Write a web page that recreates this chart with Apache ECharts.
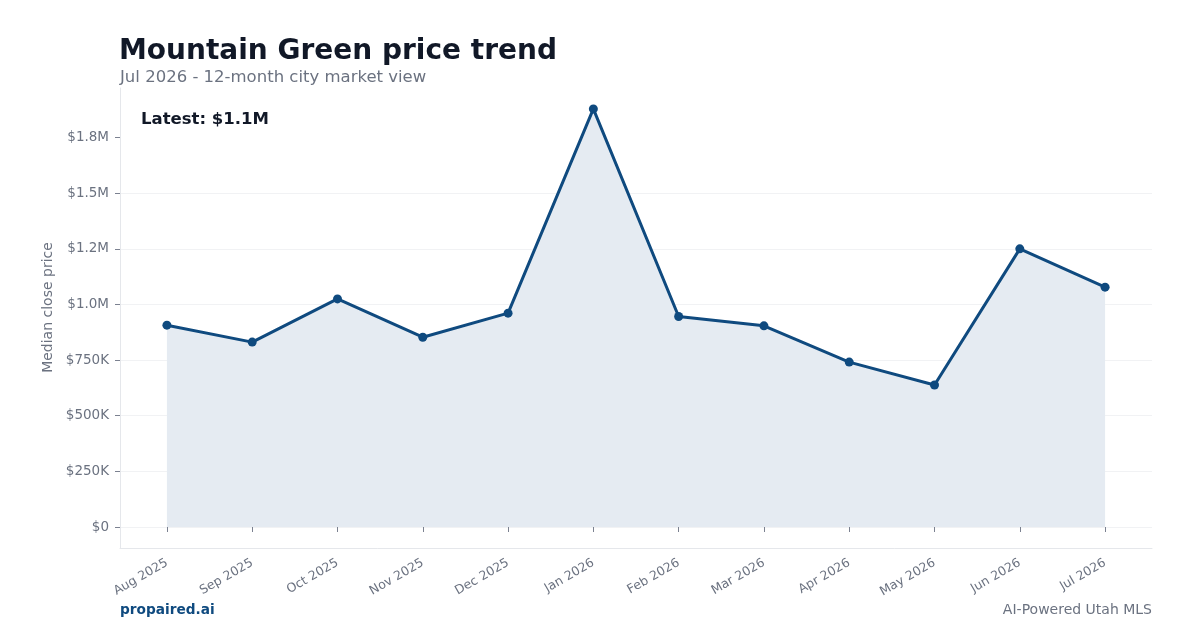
<!DOCTYPE html>
<html>
<head>
<meta charset="utf-8">
<script src="https://cdn.jsdelivr.net/npm/echarts@6/dist/echarts.min.js"></script>
<style>html,body{margin:0;padding:0;background:#fff}#c{width:1200px;height:630px}</style>
</head>
<body>
<div id="c"></div>
<script>
const months = ['Aug 2025','Sep 2025','Oct 2025','Nov 2025','Dec 2025','Jan 2026','Feb 2026','Mar 2026','Apr 2026','May 2026','Jun 2026','Jul 2026'];
const prices = [907000, 831000, 1025000, 853000, 961000, 1879000, 946000, 904000, 741000, 638000, 1250000, 1078000];
const yTickValues = [0, 250000, 500000, 750000, 1000000, 1250000, 1500000, 1750000];
const yTickLabels = ['$0', '$250K', '$500K', '$750K', '$1.0M', '$1.2M', '$1.5M', '$1.8M'];
const latestLabel = 'Latest: $1.1M';

const FONT = 'DejaVu Sans';
const GRAY = '#6b7280';
const NAVY = '#0f4a7f';

const chart = echarts.init(document.getElementById('c'), null, {renderer: 'canvas'});
const idx = months.map((m, i) => i);
chart.setOption({
  backgroundColor: '#ffffff',
  animation: false,
  title: [
    {text: 'Mountain Green price trend', left: 119, top: 38, padding: 0,
     textStyle: {fontFamily: FONT, fontSize: 28, fontWeight: 'bold', color: '#111827'}},
    {text: 'Jul 2026 - 12-month city market view', left: 120, top: 69, padding: 0,
     textStyle: {fontFamily: FONT, fontSize: 16.5, fontWeight: 'normal', color: GRAY}},
    {text: latestLabel, left: 141, top: 111, padding: 0,
     textStyle: {fontFamily: FONT, fontSize: 16.5, fontWeight: 'bold', color: '#111827'}},
    {text: 'propaired.ai', left: 120, top: 603, padding: 0,
     textStyle: {fontFamily: FONT, fontSize: 13.7, fontWeight: 'bold', color: NAVY}},
    {text: 'AI-Powered Utah MLS', right: 48, top: 603, padding: 0,
     textStyle: {fontFamily: FONT, fontSize: 14, fontWeight: 'normal', color: GRAY}}
  ],
  grid: [
    {left: 120, right: 48, top: 88, bottom: 82, containLabel: false},
    {left: 120, right: 48, top: 88, bottom: 103, containLabel: false}
  ],
  xAxis: [
    {gridIndex: 0, type: 'value', min: 0, max: 1, show: true,
     axisLine: {show: true, lineStyle: {color: '#e5e7eb', width: 1}},
     axisTick: {show: false}, axisLabel: {show: false}, splitLine: {show: false}},
    {gridIndex: 1, type: 'value', min: -0.55, max: 11.55, offset: 21,
     axisLine: {show: false},
     axisTick: {show: true, customValues: idx, length: 5, lineStyle: {color: '#7b8190'}},
     axisLabel: {show: true, customValues: idx, rotate: 30, margin: 14,
       fontFamily: FONT, fontSize: 12.5, color: GRAY,
       formatter: v => months[Math.round(v)]},
     splitLine: {show: false}}
  ],
  yAxis: [
    {gridIndex: 0, type: 'value', min: 0, max: 1,
     axisLine: {show: true, lineStyle: {color: '#e5e7eb', width: 1}},
     axisTick: {show: false}, axisLabel: {show: false}, splitLine: {show: false}},
    {gridIndex: 1, type: 'value', min: 0, max: 1973000, interval: 250000,
     name: 'Median close price', nameLocation: 'middle', nameGap: 55,
     nameTextStyle: {fontFamily: FONT, fontSize: 14, color: GRAY},
     axisLine: {show: false, onZero: false},
     axisTick: {show: true, length: 5, lineStyle: {color: '#7b8190'}, customValues: yTickValues},
     axisLabel: {show: true, margin: 11, fontFamily: FONT, fontSize: 13.5, color: GRAY,
       customValues: yTickValues,
       formatter: v => { const i = yTickValues.indexOf(v); return i >= 0 ? yTickLabels[i] : ''; }},
     splitLine: {show: true, showMaxLine: false, lineStyle: {color: '#f1f2f4', width: 1}}}
  ],
  series: [{
    type: 'line', xAxisIndex: 1, yAxisIndex: 1,
    data: prices.map((p, i) => [i, p]),
    symbol: 'circle', symbolSize: 9,
    lineStyle: {color: NAVY, width: 3},
    itemStyle: {color: NAVY},
    areaStyle: {color: '#e5ebf2', opacity: 1, origin: 'start'},
    z: 3
  }]
});
</script>
</body>
</html>
